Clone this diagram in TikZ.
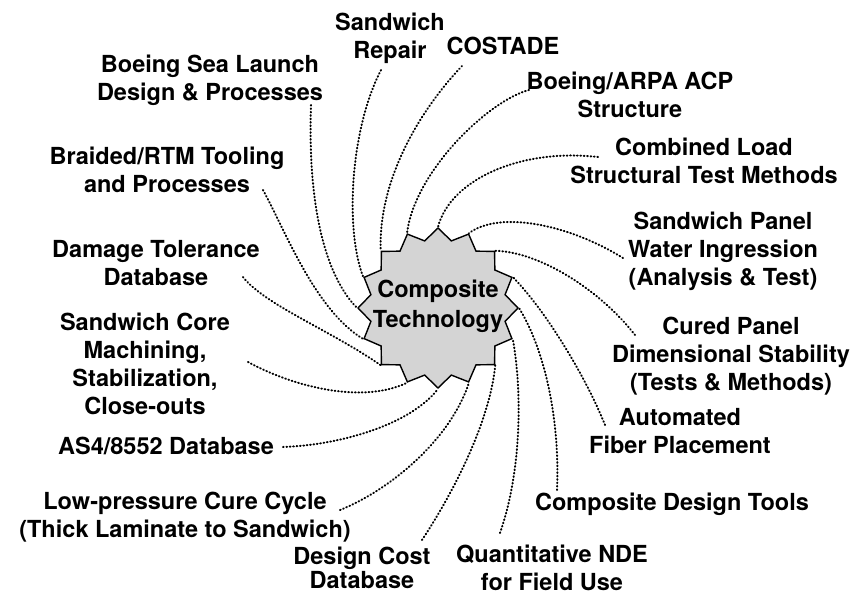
\documentclass[tikz,border=0pt]{standalone}
\usepackage{fontspec}
\setmainfont{TeX Gyre Heros}
\usetikzlibrary{shapes.geometric}
\begin{document}
\begin{tikzpicture}[x=1pt,y=-1pt,
  lbl/.style={font=\fontsize{23.5}{28}\selectfont\bfseries, align=center, anchor=north, inner sep=0pt},
  hubstar/.style={star, star points=16, star point ratio=1.17, minimum size=160pt, inner sep=0pt, draw, line width=1.4pt, fill=black!17},
  hubtext/.style={font=\fontsize{23.5}{30}\selectfont\bfseries, align=center, anchor=north, inner sep=0pt},
  link/.style={line width=2pt, line cap=round, dash pattern=on 0.7pt off 2.7pt},
]
\useasboundingbox (0,0) rectangle (857,597);

% hub
\node[hubstar] (hub) at (438,308) {};
\node[hubtext] (hubt) at (438,280) {Composite\\Technology};

% labels
\node[lbl] (rep)   at (390,13)  {Sandwich\\Repair};
\node[lbl] (cos)   at (503,37)  {COSTADE};
\node[lbl] (sea)   at (210,55)  {Boeing Sea Launch\\Design \& Processes};
\node[lbl] (arpa)  at (630,72)  {Boeing/ARPA ACP\\Structure};
\node[lbl] (comb)  at (704,138) {Combined Load\\Structural Test Methods};
\node[lbl] (brai)  at (167,147) {Braided/RTM Tooling\\and Processes};
\node[lbl] (panel) at (723,212) {Sandwich Panel\\Water Ingression\\(Analysis \& Test)};
\node[lbl] (dam)   at (156,240) {Damage Tolerance\\Database};
\node[lbl] (core)  at (145,313) {Sandwich Core\\Machining,\\Stabilization,\\Close-outs};
\node[lbl] (cured) at (731,317) {Cured Panel\\Dimensional Stability\\(Tests \& Methods)};
\node[lbl] (auto)  at (680,408) {Automated\\Fiber Placement};
\node[lbl] (asf)   at (166,437) {AS4/8552 Database};
\node[lbl] (low)   at (185,492) {Low-pressure Cure Cycle\\(Thick Laminate to Sandwich)};
\node[lbl] (tools) at (672,493) {Composite Design Tools};
\node[lbl] (nde)   at (552,545) {Quantitative NDE\\for Field Use};
\node[lbl, font=\fontsize{23.5}{24}\selectfont\bfseries] (cost) at (362,547) {Design Cost\\Database};

% connector start points
\coordinate (sRep)   at (381,70);
\coordinate (sCos)   at (462,66);
\coordinate (sArpa)  at (529,90);
\coordinate (sComb)  at (598,157);
\coordinate (sPanel) at (623,258);
\coordinate (sCured) at (635,335);
\coordinate (sAuto)  at (605,425);
\coordinate (sTools) at (557,490);
\coordinate (sNde)   at (500,533);
\coordinate (sCost)  at (422,540);
\coordinate (sLow)   at (340,510);
\coordinate (sAsf)   at (283,447);
\coordinate (sCore)  at (248,362);
\coordinate (sDam)   at (243,277);
\coordinate (sBrai)  at (263,190);
\coordinate (sSea)   at (311,105);

% connectors
\draw[link] (sRep)   .. controls (350,130) and (345,230) .. (hub.outer point 4);
\draw[link] (sCos)   .. controls (420,110) and (378,180) .. (hub.outer point 3);
\draw[link] (sArpa)  .. controls (490,100) and (415,170) .. (hub.outer point 2);
\draw[link] (sComb)  .. controls (520,148) and (450,180) .. (hub.outer point 1);
\draw[link] (sPanel) .. controls (570,225) and (500,210) .. (hub.outer point 16);
\draw[link] (sCured) .. controls (600,290) and (540,252) .. (hub.outer point 15);
\draw[link] (sAuto)  .. controls (585,375) and (545,310) .. (hub.outer point 14);
\draw[link] (sTools) .. controls (560,420) and (545,350) .. (hub.outer point 13);
\draw[link] (sNde)   .. controls (522,470) and (522,390) .. (hub.outer point 12);
\draw[link] (sCost)  .. controls (455,490) and (490,420) .. (hub.outer point 11);
\draw[link] (sLow)   .. controls (390,490) and (450,440) .. (hub.outer point 10);
\draw[link] (sAsf)   .. controls (340,445) and (410,425) .. (hub.outer point 9);
\draw[link] (sCore)  .. controls (290,385) and (360,405) .. (hub.outer point 8);
\draw[link] (sDam)   .. controls (265,305) and (330,330) .. (hub.outer point 7);
\draw[link] (sBrai)  .. controls (285,230) and (315,310) .. (hub.outer point 6);
\draw[link] (sSea)   .. controls (308,190) and (320,270) .. (hub.outer point 5);
\end{tikzpicture}
\end{document}
